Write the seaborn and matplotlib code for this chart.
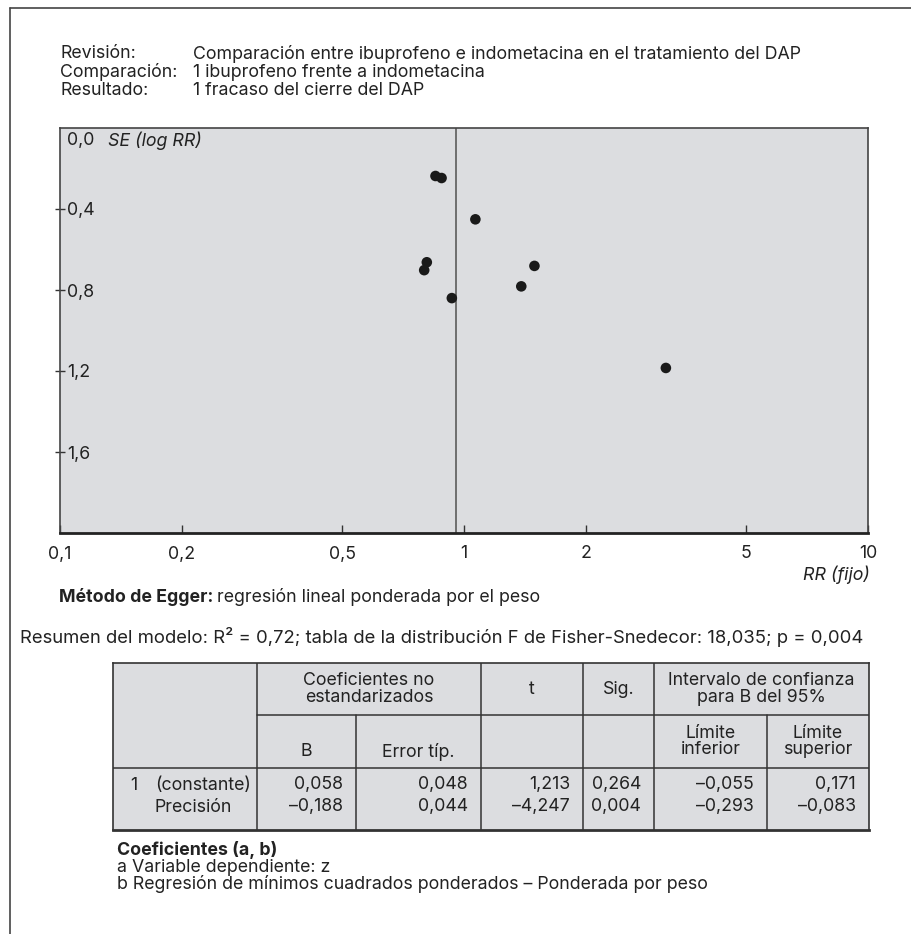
import numpy as np
import pandas as pd
import matplotlib
matplotlib.use("Agg")
import matplotlib.pyplot as plt
import seaborn as sns
from matplotlib.lines import Line2D

rr = [0.850, 0.880, 1.067, 0.809, 0.797, 0.933, 1.494, 1.386, 3.16]
se = [0.237, 0.247, 0.451, 0.663, 0.702, 0.840, 0.681, 0.782, 1.185]
rr_fijo = 0.956

x_ticks = [0.1, 0.2, 0.5, 1, 2, 5, 10]
x_labels = ["0,1", "0,2", "0,5", "1", "2", "5", "10"]
y_ticks = [0.4, 0.8, 1.2, 1.6]
y_labels = ["0,4", "0,8", "1,2", "1,6"]

header_keys = ["Revisión:", "Comparación:", "Resultado:"]
header_vals = ["Comparación entre ibuprofeno e indometacina en el tratamiento del DAP",
               "1 ibuprofeno frente a indometacina",
               "1 fracaso del cierre del DAP"]

# tabla de coeficientes (Egger)
row_nums = ["1", ""]
row_names = ["(constante)", "Precisión"]
coef_b = ["0,058", "–0,188"]
coef_err = ["0,048", "0,044"]
t_vals = ["1,213", "–4,247"]
sig_vals = ["0,264", "0,004"]
ci_low = ["–0,055", "–0,293"]
ci_high = ["0,171", "–0,083"]

notes = ["a Variable dependiente: z",
         "b Regresión de mínimos cuadrados ponderados – Ponderada por peso"]

sns.set_theme(style="white")
plt.rcParams['font.family'] = ['Inter', 'Liberation Sans', 'DejaVu Sans']
FS = 12.8
GRAY = "#dcdde0"
TC = "#222222"

W, H = 911, 934
fig = plt.figure(figsize=(W / 100, H / 100), dpi=100)


def fx(x):
    return x / W


def fy(y):
    return 1 - y / H


# marco exterior
fig.add_artist(Line2D([fx(10), fx(911)], [fy(8), fy(8)], color="#444444", lw=1.2))
fig.add_artist(Line2D([fx(10), fx(10)], [fy(8), fy(934)], color="#444444", lw=1.2))

# cabecera
for i, (k, v) in enumerate(zip(header_keys, header_vals)):
    y = 54 + i * 18.3
    fig.text(fx(60), fy(y), k, fontsize=FS, va="center", color=TC)
    fig.text(fx(193), fy(y), v, fontsize=FS, va="center", color=TC)

# grafico en embudo
ax = fig.add_axes([fx(60), fy(533), fx(868 - 60), (533 - 128) / H])
ax.set_facecolor(GRAY)
df = pd.DataFrame({"rr": rr, "se": se})
sns.scatterplot(data=df, x="rr", y="se", ax=ax, color="#1a1a1a", s=58,
                edgecolor="none", zorder=3)
ax.axvline(rr_fijo, color="#666666", lw=1.3, zorder=2)
ax.set_xscale("log")
ax.set_xlim(0.1, 10)
ax.set_ylim(2.0, 0.0)
ax.set_xlabel("")
ax.set_ylabel("")
ax.set_xticks(x_ticks)
ax.set_xticklabels(x_labels, fontsize=FS, color=TC)
ax.xaxis.set_minor_locator(matplotlib.ticker.NullLocator())
ax.tick_params(axis="x", bottom=True, direction="in", length=6, width=1,
               color="#333333", pad=9)
ax.set_yticks(y_ticks)
ax.set_yticklabels(y_labels, fontsize=FS, color=TC)
ax.tick_params(axis="y", left=True, direction="inout", length=7, width=1,
               color="#333333", pad=-8.5)
for lab in ax.get_yticklabels():
    lab.set_horizontalalignment("left")
for side in ["top", "right", "left"]:
    ax.spines[side].set_color("#444444")
    ax.spines[side].set_linewidth(1.2)
ax.spines["bottom"].set_color("#222222")
ax.spines["bottom"].set_linewidth(2)
ax.annotate("0,0", xy=(0, 0.0), xycoords=("axes fraction", "data"), xytext=(7, -13),
            textcoords="offset pixels", fontsize=FS, va="center", ha="left", color=TC)
ax.annotate("SE (log RR)", xy=(0, 0.0), xycoords=("axes fraction", "data"), xytext=(48, -13),
            textcoords="offset pixels", fontsize=FS, va="center", ha="left",
            style="italic", color=TC)
fig.text(fx(870), fy(575), "RR (fijo)", fontsize=FS, style="italic", ha="right",
         va="center", color=TC)

# texto del metodo
renderer = fig.canvas.get_renderer()
t1 = fig.text(fx(59), fy(597), "Método de Egger:", fontsize=FS, weight="bold",
              va="center", color=TC)
bb = t1.get_window_extent(renderer)
fig.text(bb.x1 / W + fx(4), fy(597), "regresión lineal ponderada por el peso",
         fontsize=FS, va="center", color=TC)
fig.text(fx(20), fy(637),
         "Resumen del modelo: R² = 0,72; tabla de la distribución F de Fisher-Snedecor: 18,035; p = 0,004",
         fontsize=13.3, ha="left", va="center", color=TC)

# tabla
tx0, tx1, ty0, ty1 = 113, 869, 663, 830
tax = fig.add_axes([fx(tx0), fy(ty1), fx(tx1 - tx0), (ty1 - ty0) / H])
tax.set_xlim(0, tx1 - tx0)
tax.set_ylim(ty1 - ty0, 0)
tax.set_facecolor(GRAY)
for s in tax.spines.values():
    s.set_color("#333333")
    s.set_linewidth(1.2)
tax.spines["bottom"].set_linewidth(2)
tax.set_xticks([])
tax.set_yticks([])

cols = [0, 144, 243, 368, 470, 541, 654, 756]
r1, r2 = 52, 105
lc = "#333333"
# lineas verticales
for c in [cols[1], cols[3], cols[4], cols[5]]:
    tax.plot([c, c], [0, ty1 - ty0], color=lc, lw=1.1)
for c in [cols[2], cols[6]]:
    tax.plot([c, c], [r1, ty1 - ty0], color=lc, lw=1.1)
tax.plot([cols[1], cols[7]], [r1, r1], color=lc, lw=1.1)
tax.plot([0, cols[7]], [r2, r2], color=lc, lw=1.1)


def mid(a, b):
    return (cols[a] + cols[b]) / 2


tkw = dict(fontsize=FS, color=TC, linespacing=0.95)
tax.text(mid(1, 3), r1 / 2, "Coeficientes no\nestandarizados", ha="center", va="center", **tkw)
tax.text(mid(3, 4), r1 / 2, "t", ha="center", va="center", **tkw)
tax.text(mid(4, 5), r1 / 2, "Sig.", ha="center", va="center", **tkw)
tax.text(mid(5, 7), r1 / 2, "Intervalo de confianza\npara B del 95%", ha="center", va="center", **tkw)
tax.text(mid(1, 2), r1 + 37, "B", ha="center", va="center", **tkw)
tax.text(mid(2, 3), r1 + 37, "Error típ.", ha="center", va="center", **tkw)
tax.text(mid(5, 6), (r1 + r2) / 2, "Límite\ninferior", ha="center", va="center", **tkw)
tax.text(mid(6, 7), (r1 + r2) / 2, "Límite\nsuperior", ha="center", va="center", **tkw)

row_y = [122, 144]
cells = [coef_b, coef_err, t_vals, sig_vals, ci_low, ci_high]
for i, y in enumerate(row_y):
    tax.text(17, y, row_nums[i], ha="left", va="center", **tkw)
    tax.text(42, y, row_names[i], ha="left", va="center", **tkw)
    for j, col in enumerate(cells):
        tax.text(cols[j + 2] - 13, y, col[i], ha="right", va="center", **tkw)

# notas al pie
fig.text(fx(117), fy(850), "Coeficientes (a, b)", fontsize=FS, weight="bold",
         va="center", color=TC)
for i, n in enumerate(notes):
    fig.text(fx(117), fy(867 + i * 17), n, fontsize=FS, va="center", color=TC)

fig.savefig("out.png", dpi=100, facecolor="white")
